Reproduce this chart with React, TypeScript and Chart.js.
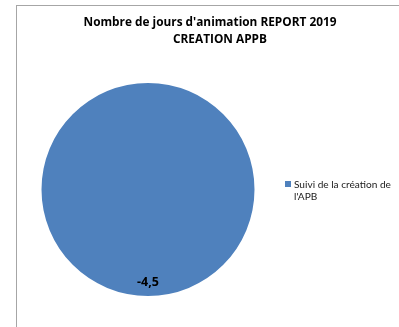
import React, { useEffect, useRef } from "react";
import { Chart, registerables } from "chart.js";

Chart.register(...registerables);

const titleLines = ["Nombre de jours d'animation REPORT 2019", "CREATION APPB"];
const categories = ["Suivi de la création de l'APB"];
const legendLines = ["Suivi de la création de", "l'APB"];
const values = [-4.5];
const colors = ["#4F81BD"];

const BOLD_FONT = "'Open Sans', 'Liberation Sans', sans-serif";
const FONT = "Lato, 'Open Sans', sans-serif";

function fitFont(ctx: any, text: string, target: number, weight: string, family: string, base: number) {
  ctx.font = `${weight} ${base}px ${family}`;
  const w = ctx.measureText(text).width;
  const size = (base * target) / w;
  return `${weight} ${size.toFixed(2)}px ${family}`;
}

const overlayPlugin = {
  id: "overlay",
  afterDraw(chart: any) {
    const ctx = chart.ctx;
    ctx.save();
    // Title
    ctx.fillStyle = "#000000";
    ctx.font = fitFont(ctx, titleLines[0], 253, "bold", BOLD_FONT, 12);
    ctx.textAlign = "center";
    ctx.textBaseline = "middle";
    ctx.fillText(titleLines[0], 210, 23);
    ctx.fillText(titleLines[1], 220, 40);

    // Data label
    const meta = chart.getDatasetMeta(0);
    const arc: any = meta.data[0];
    if (arc) {
      const r = arc.outerRadius;
      const x = arc.x;
      const y = arc.y + r * 0.87;
      const v = values[0];
      ctx.font = `bold 12.5px ${BOLD_FONT}`;
      ctx.fillText(String(v).replace(".", ","), x, y);
    }

    // Legend
    ctx.fillStyle = colors[0];
    ctx.fillRect(285, 181, 6, 6);
    ctx.fillStyle = "#1a1a1a";
    ctx.font = fitFont(ctx, legendLines[0], 97, "normal", FONT, 10.5);
    ctx.textAlign = "left";
    ctx.fillText(legendLines[0], 294, 184.5);
    ctx.fillText(legendLines[1], 294, 196.5);
    ctx.restore();
  },
};

export default function App() {
  const ref = useRef<HTMLCanvasElement>(null);
  useEffect(() => {
    if (!ref.current) return;
    const chart = new Chart(ref.current, {
      type: "pie",
      data: {
        labels: categories,
        datasets: [
          {
            data: values,
            backgroundColor: colors,
            borderWidth: 0,
            hoverOffset: 0,
            offset: 0,
          },
        ],
      },
      options: {
        responsive: false,
        animation: false,
        events: [],
        layout: { padding: { left: 41.5, right: 144.5, top: 83, bottom: 31 } },
        plugins: {
          legend: { display: false },
          title: { display: false },
          tooltip: { enabled: false },
        },
      },
      plugins: [overlayPlugin],
    });
    return () => chart.destroy();
  }, []);
  return (
    <div style={{ position: "fixed", left: 0, top: 0, width: 399, height: 327, background: "#fff", overflow: "hidden" }}>
      <div
        style={{
          position: "absolute",
          left: 16,
          top: 5,
          width: 500,
          height: 500,
          borderLeft: "1px solid #a6a6a6",
          borderTop: "1px solid #a6a6a6",
        }}
      />
      <canvas ref={ref} width={399} height={327} style={{ position: "absolute", left: 0, top: 0 }} />
    </div>
  );
}
